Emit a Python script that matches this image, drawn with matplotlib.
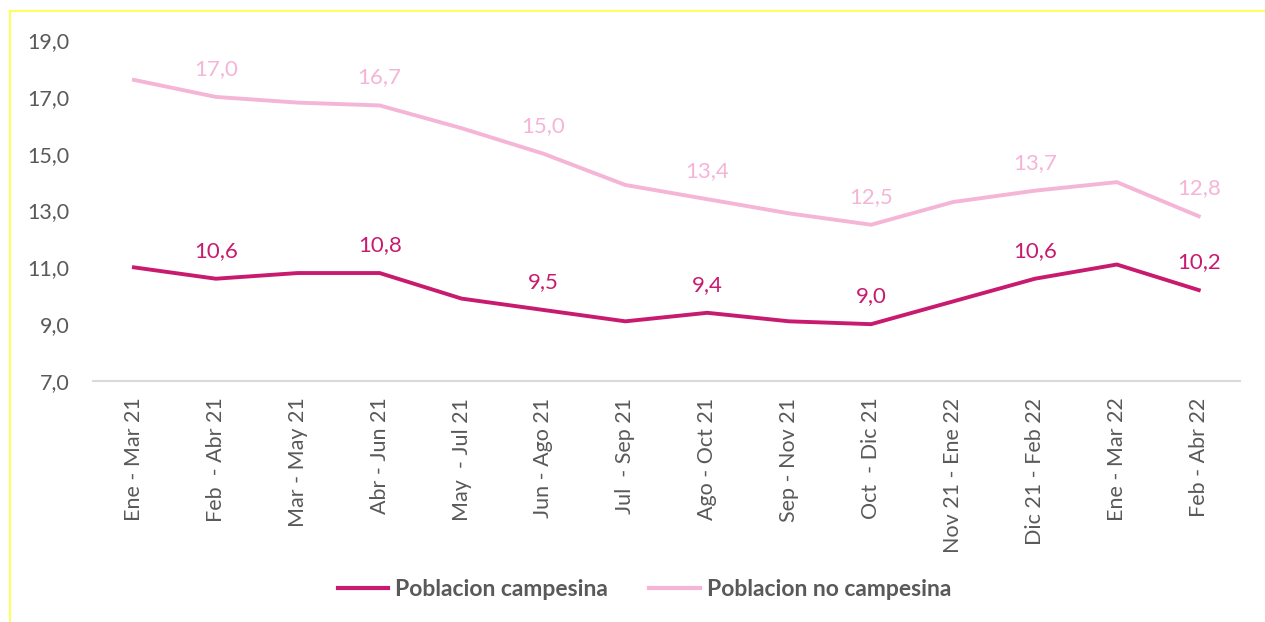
import matplotlib.pyplot as plt
from matplotlib.lines import Line2D

periodos = ['Ene - Mar 21', 'Feb  - Abr 21', 'Mar - May 21', 'Abr - Jun 21',
            'May  - Jul 21', 'Jun - Ago 21', 'Jul  - Sep 21', 'Ago - Oct 21',
            'Sep - Nov 21', 'Oct  - Dic 21', 'Nov 21 - Ene 22', 'Dic 21 - Feb 22',
            'Ene - Mar 22', 'Feb - Abr 22']
campesina = [11.0, 10.6, 10.8, 10.8, 9.9, 9.5, 9.1, 9.4, 9.1, 9.0, 9.8, 10.6, 11.1, 10.2]
no_campesina = [17.6, 17.0, 16.8, 16.7, 15.9, 15.0, 13.9, 13.4, 12.9, 12.5, 13.3, 13.7, 14.0, 12.8]

c_dark = '#C81B6F'
c_light = '#F4B5D7'
gris = '#595959'

plt.rcParams['font.family'] = ['Lato', 'DejaVu Sans']

fig = plt.figure(figsize=(12.65, 6.22), dpi=100)
ax = fig.add_axes([0.0735, 0.3875, 0.9065, 0.548])

x = list(range(len(periodos)))
ax.plot(x, campesina, color=c_dark, lw=2.8, solid_joinstyle='round')
ax.plot(x, no_campesina, color=c_light, lw=2.8, solid_joinstyle='round')

# etiquetas solo en los puntos impares
for i in x:
    if i % 2 == 1:
        ax.annotate(f'{campesina[i]:.1f}'.replace('.', ','), (i, campesina[i]),
                    xytext=(0, 13), textcoords='offset points', ha='center',
                    va='bottom', color=c_dark, fontsize=16)
        ax.annotate(f'{no_campesina[i]:.1f}'.replace('.', ','), (i, no_campesina[i]),
                    xytext=(0, 13), textcoords='offset points', ha='center',
                    va='bottom', color=c_light, fontsize=16)

ax.set_xlim(-0.5, 13.5)
ax.set_ylim(7, 19)
ax.set_yticks([7, 9, 11, 13, 15, 17, 19])
ax.set_yticklabels([f'{v:.1f}'.replace('.', ',') for v in [7, 9, 11, 13, 15, 17, 19]])
ax.set_xticks(x)
ax.set_xticklabels(periodos, rotation=90)
ax.tick_params(axis='both', length=0, colors=gris, labelsize=15.5)
ax.tick_params(axis='y', pad=17)
ax.tick_params(axis='x', pad=12)
for s in ['top', 'right', 'left']:
    ax.spines[s].set_visible(False)
ax.spines['bottom'].set_color('#D9D9D9')
ax.spines['bottom'].set_linewidth(1.5)

handles = [Line2D([], [], color=c_dark, lw=3), Line2D([], [], color=c_light, lw=3)]
fig.legend(handles, ['Poblacion campesina', 'Poblacion no campesina'],
           loc='center', bbox_to_anchor=(0.5095, 0.052), ncol=2, frameon=False,
           prop={'weight': 'bold', 'size': 16.5}, labelcolor=gris,
           handlelength=2.2, handletextpad=0.3, columnspacing=1.8)

# marco amarillo
fig.add_artist(Line2D([10 / 1265, 1], [1 - 11 / 622, 1 - 11 / 622], color='#FFFF33', lw=1.2))
fig.add_artist(Line2D([10 / 1265, 10 / 1265], [0, 1 - 11 / 622], color='#FFFF33', lw=1.2))

fig.savefig('out.png', dpi=100)
